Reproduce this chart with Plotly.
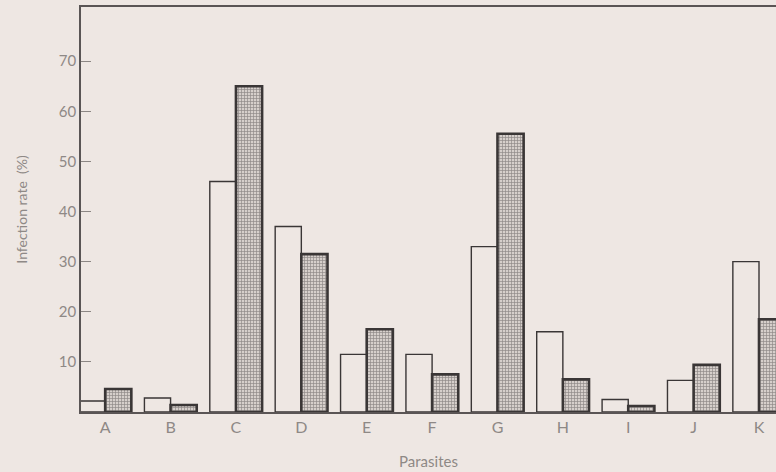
import plotly.graph_objects as go

parasites = ["A", "B", "C", "D", "E", "F", "G", "H", "I", "J", "K"]
open_bars = [2.2, 2.8, 46, 37, 11.5, 11.5, 33, 16, 2.5, 6.3, 30]
hatched_bars = [4.6, 1.4, 65, 31.5, 16.5, 7.5, 55.5, 6.5, 1.2, 9.4, 18.5]
y_ticks = [10, 20, 30, 40, 50, 60, 70]

bg = "#eee7e3"
ink = "#3a3636"
txt = "#8e8986"
font_family = "Lato, 'Noto Sans', sans-serif"

fig = go.Figure()
fig.add_trace(go.Bar(
    x=parasites, y=open_bars, name="open",
    marker=dict(color=bg, line=dict(color=ink, width=1.4)),
))
fig.add_trace(go.Bar(
    x=parasites, y=hatched_bars, name="hatched",
    marker=dict(color="#c9c2be", line=dict(color=ink, width=2.6),
                pattern=dict(shape="+", fgcolor="#474242", bgcolor="#d6cfcb",
                             size=3, solidity=0.4)),
))

fig.update_layout(
    width=776, height=472,
    margin=dict(l=81, r=0, t=7, b=60, autoexpand=False),
    paper_bgcolor=bg, plot_bgcolor=bg,
    barmode="group", bargap=0.2, bargroupgap=0,
    showlegend=False,
    font=dict(family=font_family, color=txt, size=15),
)
fig.update_xaxes(
    range=[-0.37, 10.26], automargin=False,
    showline=True, linecolor="#5a5555", linewidth=1.5, mirror=True,
    ticks="", showgrid=False, zeroline=False,
    tickfont=dict(size=16, color=txt),
    title=dict(text="Parasites", font=dict(size=15, color=txt), standoff=22),
)
fig.update_yaxes(
    range=[0, 80.8], automargin=False,
    tickvals=y_ticks,
    showline=True, linecolor="#5a5555", linewidth=1.5, mirror=False,
    ticks="inside", ticklen=10, tickcolor="#8c8784", tickwidth=1,
    showgrid=False, zeroline=False,
    tickfont=dict(size=15, color=txt),
    title=dict(text="Infection rate  (%)", font=dict(size=14, color=txt), standoff=28),
)

fig.write_html("out.html", config={"displayModeBar": False},
               post_script="document.body.style.margin='0';")
